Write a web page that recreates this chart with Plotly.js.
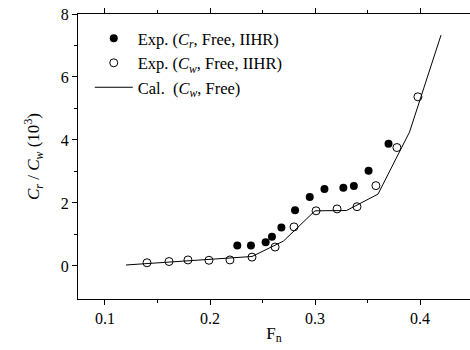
<!DOCTYPE html>
<html>
<head>
<meta charset="utf-8">
<script src="https://cdn.plot.ly/plotly-3.0.1.min.js"></script>
<style>html,body{margin:0;padding:0;background:#fff;}#chart{width:470px;height:350px;}</style>
</head>
<body>
<div id="chart"></div>
<script>
// Exp. Cr (Free, IIHR)
const crFn = [0.226, 0.239, 0.253, 0.259, 0.268, 0.281, 0.295, 0.309, 0.327, 0.337, 0.351, 0.370];
const crVal = [0.65, 0.65, 0.75, 0.93, 1.22, 1.77, 2.19, 2.44, 2.48, 2.54, 3.02, 3.88];
// Exp. Cw (Free, IIHR)
const cwFn = [0.140, 0.161, 0.179, 0.199, 0.219, 0.240, 0.262, 0.280, 0.301, 0.321, 0.340, 0.358, 0.378, 0.398];
const cwVal = [0.10, 0.14, 0.19, 0.18, 0.19, 0.28, 0.60, 1.24, 1.75, 1.81, 1.88, 2.55, 3.76, 5.37];
// Cal. Cw (Free)
const calFn = [0.12, 0.24, 0.27, 0.30, 0.33, 0.36, 0.39, 0.42];
const calVal = [0.03, 0.30, 0.79, 1.75, 1.76, 2.28, 4.25, 7.33];

const font = 'Liberation Serif, Times New Roman, serif';

const traces = [
  {x: crFn, y: crVal, type: 'scatter', mode: 'markers',
   name: 'Exp. (<i>C</i><sub><i>r</i></sub>, Free, IIHR)',
   marker: {symbol: 'circle', size: 8, color: '#000'}},
  {x: cwFn, y: cwVal, type: 'scatter', mode: 'markers',
   name: 'Exp. (<i>C</i><sub><i>w</i></sub>, Free, IIHR)',
   marker: {symbol: 'circle-open', size: 8, color: '#000', line: {width: 1, color: '#000'}}},
  {x: calFn, y: calVal, type: 'scatter', mode: 'lines',
   name: 'Cal.  (<i>C</i><sub><i>w</i></sub>, Free)',
   line: {color: '#000', width: 1}}
];

const layout = {
  width: 470, height: 350,
  margin: {l: 78, r: 0, t: 14, b: 51},
  paper_bgcolor: '#fff', plot_bgcolor: '#fff',
  font: {family: font, size: 16, color: '#000'},
  showlegend: true,
  legend: {x: 0.03, y: 0.975, xanchor: 'left', yanchor: 'top', bgcolor: 'rgba(0,0,0,0)',
           itemwidth: 38, font: {family: font, size: 16.5, color: '#000'}, tracegroupgap: 0},
  xaxis: {
    range: [0.0743, 0.4476], tickvals: [0.1, 0.2, 0.3, 0.4], ticktext: ['0.1','0.2','0.3','0.4'],
    ticks: 'outside', ticklen: 5, tickwidth: 1, tickcolor: '#000',
    minor: {tickvals: [0.15, 0.25, 0.35], ticks: 'outside', ticklen: 3, tickcolor: '#000'},
    showline: true, linecolor: '#000', linewidth: 1, mirror: 'ticks',
    showgrid: false, zeroline: false,
    tickfont: {family: font, size: 16},
    title: {text: 'F<sub>n</sub>', font: {family: font, size: 17}, standoff: 0}
  },
  yaxis: {
    range: [-1.05, 8], tickvals: [0, 2, 4, 6, 8],
    ticks: 'outside', ticklen: 5, tickwidth: 1, tickcolor: '#000',
    minor: {tickvals: [1, 3, 5, 7], ticks: 'outside', ticklen: 3, tickcolor: '#000'},
    showline: true, linecolor: '#000', linewidth: 1, mirror: false,
    showgrid: false, zeroline: false,
    tickfont: {family: font, size: 16},
    title: {text: '<i>C</i><sub><i>r</i></sub> / <i>C</i><sub><i>w</i></sub> (10<sup>3</sup>)', font: {family: font, size: 17}, standoff: 16}
  }
};

Plotly.newPlot('chart', traces, layout, {displayModeBar: false, staticPlot: true});
</script>
</body>
</html>
